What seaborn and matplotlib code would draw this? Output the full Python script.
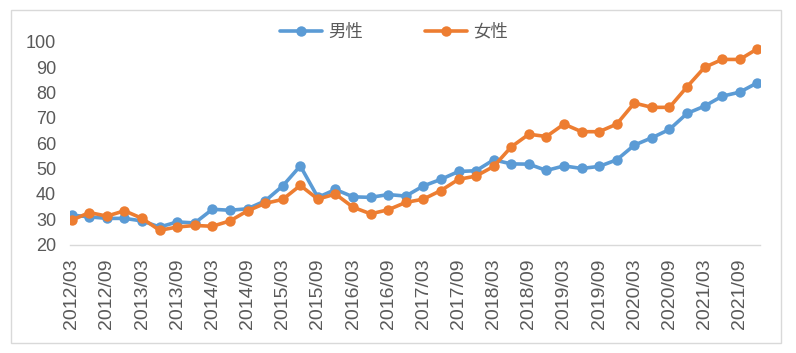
import matplotlib
matplotlib.use("Agg")
import matplotlib.pyplot as plt
from matplotlib.lines import Line2D
from matplotlib.patches import Rectangle
import numpy as np
import pandas as pd
import seaborn as sns

# Quarterly periods 2012/03 .. 2021/12
periods = [f"{y}/{m:02d}" for y in range(2012, 2022) for m in (3, 6, 9, 12)]

# Values.
male = [31.6, 30.9, 30.3, 30.3, 29.3, 26.9, 28.9, 28.5, 33.9, 33.5,
        34.1, 37.2, 43.1, 51.0, 38.6, 41.7, 38.8, 38.6, 39.7, 39.1,
        43.1, 45.7, 48.8, 49.1, 53.4, 51.8, 51.7, 49.2, 51.0, 50.0,
        50.8, 53.4, 59.2, 62.1, 65.4, 71.7, 74.6, 78.5, 80.1, 83.8]
female = [29.6, 32.6, 31.2, 33.3, 30.3, 25.6, 26.9, 27.5, 27.2, 29.3,
          33.3, 36.2, 37.8, 43.3, 37.9, 39.9, 34.7, 32.1, 33.7, 36.6,
          37.9, 41.3, 45.7, 47.0, 50.8, 58.5, 63.5, 62.6, 67.5, 64.5,
          64.5, 67.5, 75.8, 74.1, 74.1, 82.2, 89.9, 93.0, 93.0, 97.2]
series_names = ["男性", "女性"]
colors = ["#5B9BD5", "#ED7D31"]

df = pd.DataFrame({
    "idx": list(range(len(periods))) * 2,
    "value": male + female,
    "series": [series_names[0]] * len(male) + [series_names[1]] * len(female),
})

sns.set_style("white")
plt.rcParams["font.family"] = ["Liberation Sans", "DejaVu Sans"]
text_color = "#595959"

fig = plt.figure(figsize=(7.96, 3.53), dpi=100)
ax = fig.add_axes([70 / 796, 1 - 244.5 / 353, 690 / 796, (244.5 - 41.7) / 353])

sns.lineplot(data=df, x="idx", y="value", hue="series", hue_order=series_names,
             palette=colors, marker="o", markersize=7.5, markeredgewidth=0,
             linewidth=2.6, ax=ax, legend=False)

ax.set_ylim(20, 100)
ax.set_xlim(-0.1, 39.15)
ax.set_yticks(np.arange(20, 101, 10))
ax.set_xticks(range(0, len(periods), 2))
ax.set_xticklabels(periods[::2], rotation=90, fontsize=14, color=text_color)
ax.tick_params(axis="y", length=0, labelsize=13, labelcolor=text_color, pad=10)
ax.tick_params(axis="x", length=6, color="#D9D9D9", width=1, pad=4, direction="out")
ax.set_xlabel("")
ax.set_ylabel("")
for side in ["top", "right", "left"]:
    ax.spines[side].set_visible(False)
ax.spines["bottom"].set_color("#D9D9D9")
ax.spines["bottom"].set_linewidth(1)

# Legend on top
handles = [Line2D([0], [0], color=c, lw=2.6, marker="o", markersize=7.5,
                  markeredgewidth=0) for c in colors]
fig.legend(handles, series_names, loc="center", bbox_to_anchor=(0.495, 0.91),
           ncol=2, frameon=False, handlelength=2.4, handletextpad=0.35,
           columnspacing=3.6, prop={"family": ["Noto Sans CJK JP", "DejaVu Sans"], "size": 12.5},
           labelcolor=text_color)

# Outer chart border
fig.patches.append(Rectangle((10.5 / 796, 1 - 343 / 353), 770 / 796, 333.5 / 353,
                             transform=fig.transFigure, fill=False,
                             edgecolor="#D9D9D9", linewidth=1))

fig.savefig("out.png", dpi=100)
